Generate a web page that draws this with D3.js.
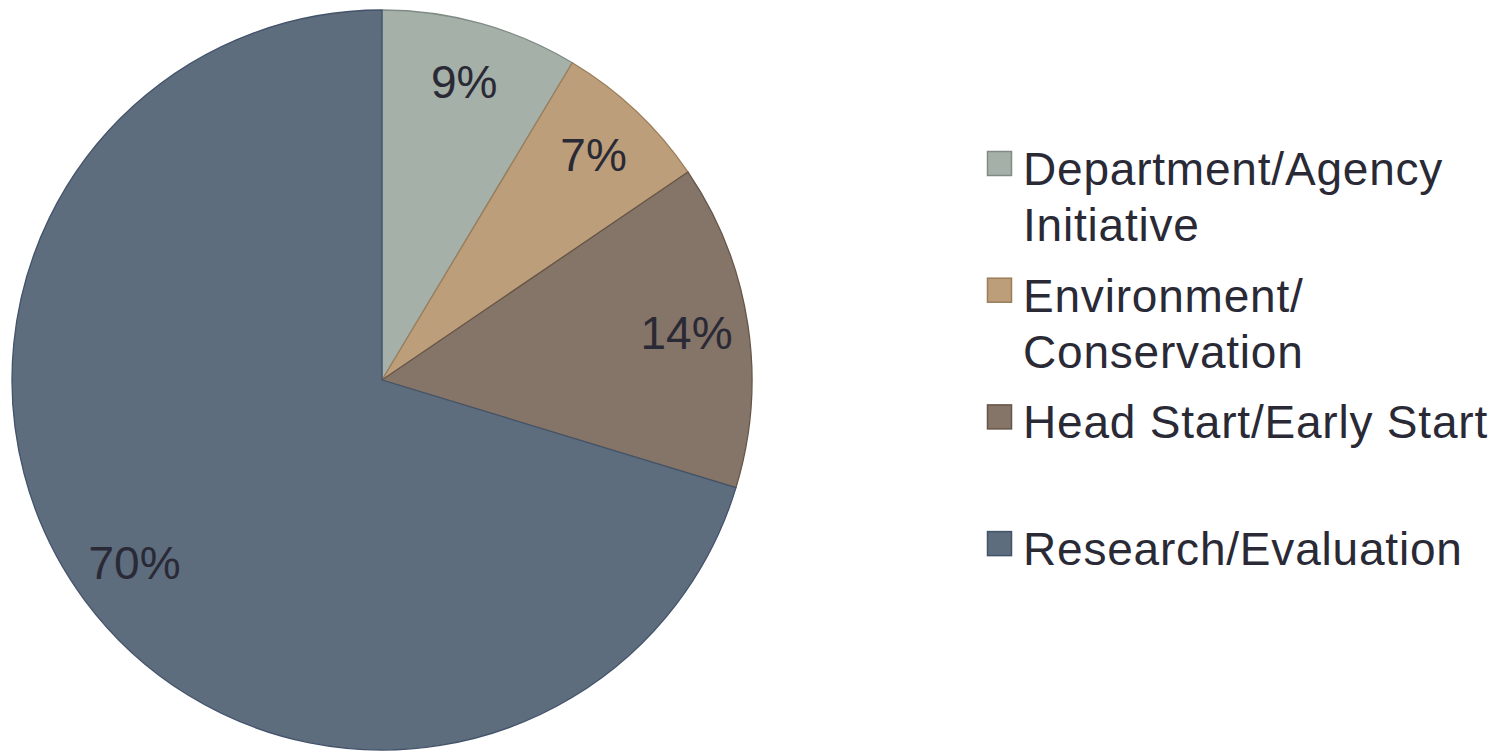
<!DOCTYPE html>
<html>
<head>
<meta charset="utf-8">
<script src="https://cdn.jsdelivr.net/npm/d3@7"></script>
<style>
  html, body { margin: 0; padding: 0; background: #fff; }
  svg { display: block; }
  text { font-family: "Liberation Sans", Arial, sans-serif; fill: #2a2a36; }
</style>
</head>
<body>
<svg id="chart" width="1508" height="751"></svg>
<script>
const categories = ["Department/Agency Initiative", "Environment/ Conservation", "Head Start/Early Start", "Research/Evaluation"];
const legendLines = [["Department/Agency", "Initiative"], ["Environment/", "Conservation"], ["Head Start/Early Start"], ["Research/Evaluation"]];
const values = [8.6, 6.9, 14.2, 70.3];
const valueLabels = ["9%", "7%", "14%", "70%"];
const colors = ["#a5b0a9", "#bd9e7a", "#857468", "#5d6d7e"];
const strokes = ["#7f8b84", "#9a7d5a", "#665649", "#43536a"];

const svg = d3.select("#chart");
const cx = 382, cy = 380, R = 370;

const data = categories.map((c, i) => ({ cat: c, value: values[i], label: valueLabels[i], i }));
const pie = d3.pie().value(d => d.value).sort(null);
const arcs = pie(data);
const arc = d3.arc().innerRadius(0).outerRadius(R);
const labelArc = d3.arc().innerRadius(308).outerRadius(308);

const g = svg.append("g").attr("transform", `translate(${cx},${cy})`);
g.selectAll("path").data(arcs).enter().append("path")
  .attr("d", arc)
  .attr("fill", d => colors[d.data.i])
  .attr("stroke", d => strokes[d.data.i])
  .attr("stroke-width", 1.3)
  .attr("stroke-linejoin", "round");

g.selectAll("text.lbl").data(arcs).enter().append("text")
  .attr("class", "lbl")
  .attr("transform", d => `translate(${labelArc.centroid(d)})`)
  .attr("text-anchor", "middle")
  .attr("dy", "0.33em")
  .style("font-size", "46px")
  .text(d => d.data.label);

const legend = svg.append("g");
const lx = 987, baseY0 = 185, slot = 126.7, lineH = 56, sq = 24;
legendLines.forEach((lines, i) => {
  const by = baseY0 + i * slot;
  legend.append("rect")
    .attr("x", lx + 0.5).attr("y", by - 33.5)
    .attr("width", sq).attr("height", sq)
    .attr("fill", colors[i]).attr("stroke", strokes[i]).attr("stroke-width", 1.5);
  const t = legend.append("text").attr("x", lx + 36).attr("y", by)
    .style("font-size", "46px").style("letter-spacing", "0.8px");
  lines.forEach((ln, j) => {
    t.append("tspan").attr("x", lx + 36).attr("dy", j === 0 ? 0 : lineH).text(ln);
  });
});
</script>
</body>
</html>
